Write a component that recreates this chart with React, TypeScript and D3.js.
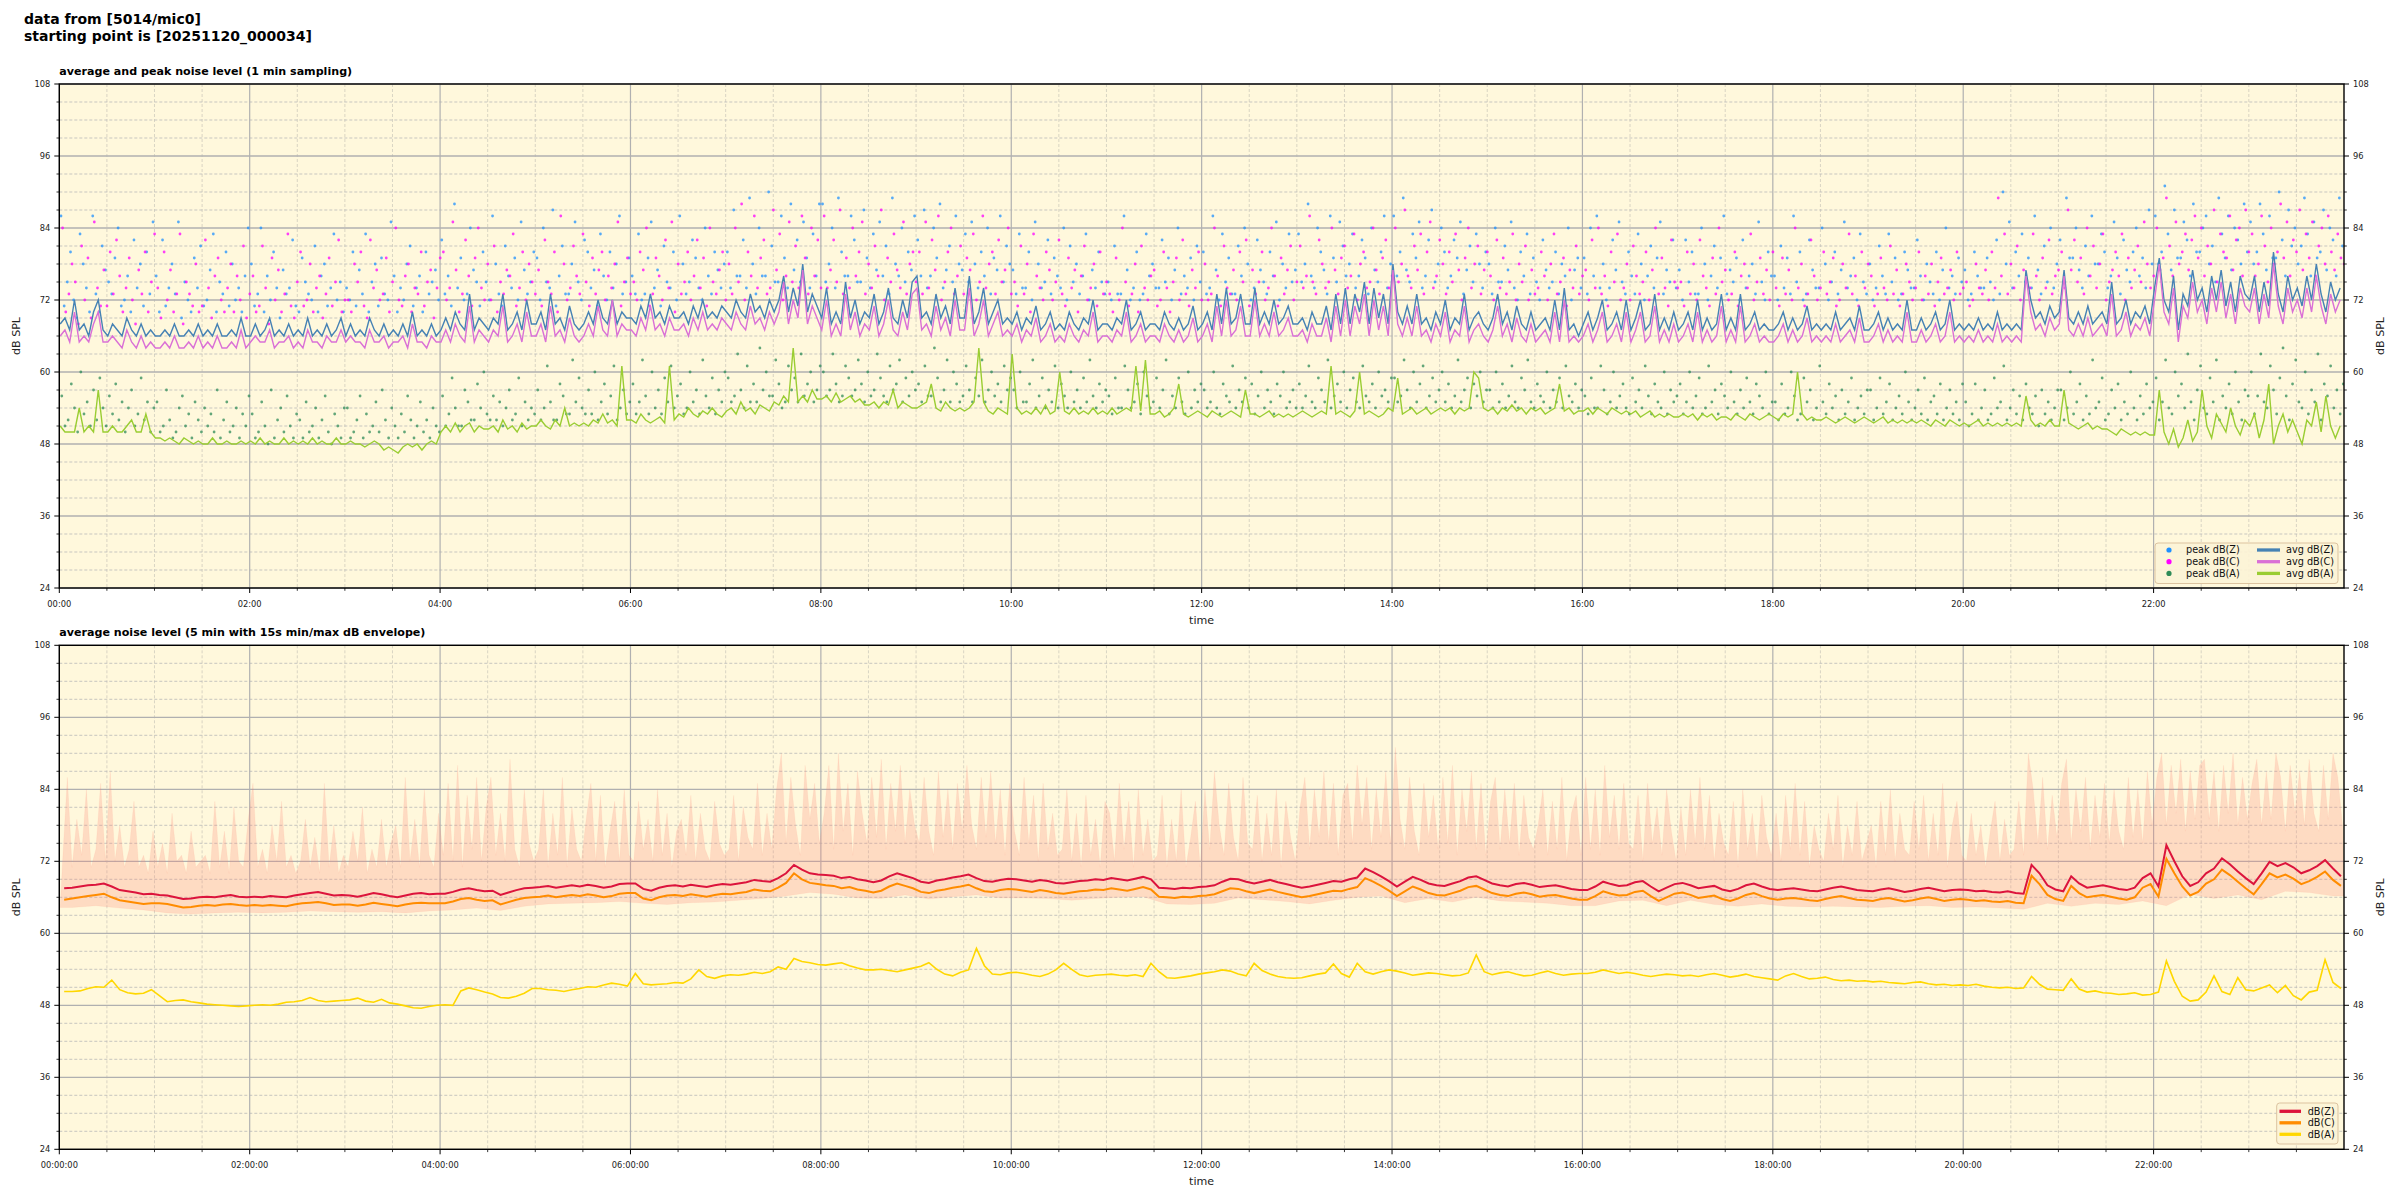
import React from "react";
import * as d3 from "d3";

// ---------------- data ----------------
const START_MIN = 34 / 60; // starting point 00:00:34
const AVG_STEP_MIN = 3;
const PEAK_STEP_MIN = 2;
const BOT_STEP_MIN = 5;
const ENV_MAX_STEP_MIN = 3;
const ENV_MIN_STEP_MIN = 15;

// top panel: average levels (3-min resolution)
const avgZ = [
  68,69,67,72,67,68,66,70,72,67, 66,68,67,66,69,67,66,68,66,67, 66,66,67,66,68,66,66,67,66,68, 66,67,66,68,66,66,67,66,69,66,
  66,68,66,67,69,66,67,66,68,66, 67,66,69,66,67,66,68,66,67,69, 66,68,66,67,66,69,67,66,68,66, 67,66,68,66,70,66,67,66,68,66,
  67,69,67,70,68,67,73,67,69,68, 67,69,68,73,67,68,70,67,72,68, 68,70,67,73,68,69,67,71,68,67, 68,70,68,72,69,68,72,68,70,69,
  69,68,71,69,73,69,70,68,71,69, 69,70,68,71,69,72,69,70,69,71, 70,69,72,70,69,73,70,71,69,72, 70,72,76,70,74,71,78,70,73,71,
  69,74,68,70,68,75,69,72,68,70, 69,73,68,70,74,69,68,72,69,75, 76,69,70,68,73,69,71,68,74,69, 69,76,68,70,74,68,70,72,68,69,
  68,70,67,69,68,71,67,68,70,67, 68,67,70,68,67,69,68,72,67,68, 68,67,69,68,72,67,68,70,67,68, 68,67,70,68,67,69,67,68,71,67,
  68,70,67,73,68,74,68,69,73,68, 68,74,68,70,68,72,68,69,71,68, 68,69,67,70,68,68,71,67,73,68, 74,68,73,70,75,68,74,69,73,68,
  78,70,68,71,68,73,68,69,67,70, 68,72,67,69,68,73,67,69,70,68, 67,69,73,68,70,67,71,68,67,70, 67,68,69,67,72,67,74,67,68,66,
  68,70,67,69,72,67,68,70,67,72, 67,69,72,67,68,73,67,69,67,70, 67,68,70,67,72,67,69,67,68,73, 67,69,67,73,67,68,70,67,68,67,
  67,68,70,67,69,67,68,71,67,68, 67,68,67,70,67,68,69,67,71,67, 67,68,70,67,69,67,68,67,72,67, 67,69,67,68,70,67,68,72,67,68,
  67,68,67,69,67,68,67,70,67,68, 67,68,67,77,72,69,70,68,71,69, 70,77,69,68,70,68,71,68,69,70, 68,75,68,69,72,68,70,69,71,68,
  74,79,72,70,76,67,73,71,77,72, 74,70,76,72,77,71,75,70,76,73, 72,76,70,75,71,80,73,70,76,72, 74,71,76,72,78,73,70,75,72,74,
];
const avgC = [
  66,67,65,70,65,66,65,68,70,65, 65,66,65,64,67,65,64,66,64,65, 64,64,65,64,66,64,64,65,64,66, 64,65,64,66,64,64,65,64,67,64,
  65,66,65,65,67,64,65,65,66,64, 65,64,67,65,65,64,66,65,65,67, 65,66,65,65,64,67,65,65,66,64, 65,65,66,64,68,65,65,64,66,65,
  65,67,65,68,66,65,71,65,67,66, 65,67,66,71,65,66,68,65,70,66, 66,68,65,71,66,67,65,69,66,65, 66,68,66,71,67,66,72,66,68,67,
  67,66,69,67,71,67,68,66,69,67, 67,68,66,69,67,70,67,68,67,69, 68,67,70,68,67,71,68,69,67,70, 68,70,75,68,72,69,77,68,71,69,
  67,72,66,68,66,73,67,70,66,68, 67,71,66,68,72,67,66,70,67,73, 74,67,68,66,71,67,69,66,72,67, 67,74,66,68,72,66,68,70,66,67,
  66,68,65,67,66,69,65,66,68,65, 66,65,68,66,65,67,66,70,65,66, 66,65,67,66,70,65,66,68,65,66, 66,65,68,66,65,67,65,66,69,65,
  66,68,65,71,66,72,66,67,71,66, 66,72,66,68,66,70,66,67,69,66, 66,67,65,68,66,66,69,65,71,66, 72,66,71,68,73,66,72,67,71,66,
  77,68,66,69,66,71,66,67,65,68, 66,70,65,67,66,71,65,67,68,66, 65,67,71,66,68,65,69,66,65,68, 65,66,67,65,70,65,72,65,66,65,
  66,68,65,67,70,65,66,68,65,70, 65,67,70,65,66,71,65,67,65,68, 65,66,68,65,70,65,67,65,66,71, 65,67,65,71,65,66,68,65,66,65,
  65,66,68,65,67,65,66,69,65,66, 65,66,65,68,65,66,67,65,69,65, 65,66,68,65,67,65,66,65,70,65, 65,67,65,66,68,65,66,70,65,66,
  65,66,65,67,65,66,65,68,65,66, 65,66,65,76,70,67,68,66,69,67, 68,76,67,66,68,66,69,66,67,68, 66,73,66,67,70,66,68,67,69,66,
  72,78,70,68,74,65,71,69,75,70, 72,68,74,70,75,69,73,68,74,71, 70,74,68,73,69,78,71,68,74,70, 72,69,74,70,76,71,68,73,70,72,
];
const avgA = [
  51,50,50,50,54,50,51,50,57,50, 50,51,50,50,51,52,50,50,53,50, 49,49,48.5,49,48.5,48,49,48.5,48,48.5, 48,48,49,48,48,48.5,48,48,48.5,48,
  48.5,48,49,48,48.5,48,48,49,48,48.5, 48,48.5,48,49,48,48.5,48,48,49,48, 48,48.5,48,48,47.5,48,48.5,48,47,47.5, 47,46.5,47.5,48,47.5,48,47,48,48.5,48,
  50,51,50,51.5,50,51,51.5,50,51,50.5, 50.5,51,50,52,50.5,51,50,51.5,50.5,51, 51,52,51,50.5,52,51,54,51,51.5,51, 51.5,51,52,51.5,53,51.5,52,51,61,52,
  52,51.5,53,52,51.5,52,52.5,51.5,61,52, 53,52.5,54,53,52.5,53.5,53,54,53,52.5, 53.5,54,53,55,53.5,54,53,54.5,54,53.5, 55,54.5,56,55,64,55,56,55,57,55.5,
  55.5,56,55,56.5,55,55.5,56,55,55.5,54.5, 54.5,55,54,55,54.5,57,54,55,54.5,54, 54,54.5,55,58,54,53.5,55,54,53.5,54, 53.5,54,55,64,55,53.5,53,54,53.5,53,
  63,54,53,53.5,53,54,53,54.5,53,53.5, 60,53.5,53,54,53,53.5,53,54,53,53.5, 53,54,53,53.5,54,53.5,61,53.5,62,53, 53,53.5,52.5,53,54,58,53,52.5,53,53.5,
  53,52.5,53.5,53,52.5,53,53.5,53,52.5,57, 53,53,52.5,53,53.5,52.5,53,52.5,53,52.5, 53,53.5,53,52.5,53,53.5,53,61,53,53.5, 53,52.5,53.5,60,53,53.5,53,52.5,53,54,
  53.5,59,53,53.5,54,53,53.5,54,53,53.5, 54,53.5,54,53,54,53.5,54,60,59,54, 53.5,54,53,54,53.5,54.5,53.5,54,53,54, 53.5,54,53,53.5,54,58,53.5,54,53,53.5,
  53.5,54,53,54,53.5,53,54,53.5,53,53.5, 53,53.5,52.5,53,53.5,52.5,53,52.5,53,52.5, 52.5,53,52.5,53,52,53,52.5,53,52,52.5, 52.5,52,53,52.5,52,53,52.5,52,52.5,53,
  52.5,52,53,52.5,53,60,53,52,52.5,52, 52,52.5,52,51.5,52,52.5,52,51.5,52,52.5, 52,51.5,52,52.5,51.5,52,51.5,52,51.5,52, 51.5,52,51.5,51,52,51.5,51,52,51.5,51,
  51.5,51,51.5,52,51,51.5,51,51.5,51,51.5, 51,51.5,51,56,52,51,51.5,51,52,51, 51,57,51.5,51,50.5,51,51.5,50.5,51,50.5, 50.5,50,49.5,50.5,50,49.5,50,49.5,50,49.5,
  49.5,57,50,48,50.5,47.5,49,52,48.5,50, 57,51,49,53,51.5,50,54,51,49.5,52, 51,53,49,52,58,48,51,53,50,52, 50,48,52,51,55,50,56,51,49,51,
];

// top panel: per-minute peaks (shown every 2 min)
const peakZ = [
  86,71,75,80,72,69,83,78,74,70, 86,73,70,81,77,75,73,79,84,71, 72,76,70,82,74,78,71,80,73,85,
  76,70,82,71,74,78,73,85,69,75, 72,70,79,74,81,71,72,77,83,70, 75,73,80,71,78,72,74,70,76,84,
  78,71,73,84,70,76,72,80,74,69, 77,73,74,82,71,70,79,75,73,72, 81,70,76,78,71,74,83,72,75,70,
  74,72,80,71,77,73,83,70,75,78, 71,79,73,72,85,76,70,74,72,78, 81,71,74,76,70,80,73,75,77,72,
  82,73,76,71,88,74,79,72,73,84, 77,75,71,80,75,72,86,78,73,71, 81,76,74,79,72,85,77,73,75,80,
  79,72,84,75,74,87,71,76,81,73, 73,78,85,75,72,82,80,74,77,71, 83,76,72,80,74,78,86,73,75,79,
  76,73,83,72,73,79,85,74,77,71, 81,75,74,80,72,86,78,73,75,82, 79,74,72,84,76,73,80,77,74,78,
  80,74,87,76,76,82,74,89,78,73, 84,76,76,90,81,75,75,86,79,74, 88,77,82,75,85,79,74,83,76,88,
  88,75,78,84,74,89,80,76,76,86, 82,75,75,87,79,74,83,77,85,76, 81,73,89,78,76,84,75,80,77,86,
  82,76,87,74,76,84,79,88,74,77, 81,75,86,78,77,83,75,85,78,74, 80,76,84,73,79,77,86,75,81,78,
  77,73,83,74,74,80,72,85,78,74, 75,82,73,79,76,74,84,72,81,75, 78,73,76,83,72,77,74,80,75,73,
  75,72,81,73,73,86,77,72,74,80, 72,73,83,76,78,74,74,82,75,79, 72,77,84,73,76,74,79,72,81,75,
  80,73,74,86,77,72,83,75,79,73, 73,81,76,84,78,72,74,82,77,75, 73,80,76,85,72,78,74,83,75,77,
  83,75,78,88,76,74,84,80,77,73, 86,79,75,85,81,76,78,83,74,76, 82,79,73,84,77,75,80,86,74,78,
  86,76,80,89,77,75,83,79,85,74, 76,82,87,75,78,84,80,74,76,82, 79,85,73,77,81,75,83,78,74,80,
  78,73,84,75,75,81,77,85,74,72, 80,76,83,73,79,75,72,82,77,74, 75,80,73,78,76,84,72,77,79,74,
  79,73,84,76,86,74,78,72,74,82, 77,85,75,73,80,76,73,83,78,72, 76,81,74,79,85,73,77,75,82,74,
  77,72,82,75,80,73,73,84,78,72, 76,81,74,79,86,73,77,75,79,72, 82,74,76,78,73,85,75,72,80,76,
  76,72,81,74,79,73,86,75,80,72, 73,82,77,74,74,84,78,72,75,80, 73,77,85,74,76,79,72,83,75,73,
  78,72,74,81,76,73,83,75,79,72, 73,80,77,74,74,82,76,72,78,75, 73,80,72,77,84,74,76,73,79,75,
  77,72,73,80,76,74,74,79,75,72, 82,73,90,78,85,74,80,76,83,75, 79,74,86,77,73,81,75,84,74,78,
  82,75,89,79,79,84,77,74,81,76, 86,78,78,83,80,74,76,85,79,73, 82,77,75,80,84,76,79,74,87,78,
  86,78,80,91,83,77,87,79,79,85, 82,76,88,80,80,84,86,78,81,75, 89,83,79,86,77,84,82,78,88,80,
  85,78,80,88,83,77,86,79,79,90, 82,76,87,81,84,78,81,89,83,76, 85,79,80,87,77,84,82,76,89,81,
];
const peakC = [
  84,70,73,78,75,68,81,72,79,69, 85,74,71,77,71,80,73,82,76,70, 74,79,72,68,77,73,80,70,75,83,
  74,69,80,72,77,70,73,83,68,75, 73,71,78,70,71,82,74,69,76,79, 72,70,74,78,70,76,72,81,69,73,
  76,70,71,81,74,68,79,72,77,70, 73,83,71,69,75,80,71,72,78,70, 74,76,69,73,79,71,75,82,70,72,
  72,70,78,75,80,71,69,82,74,77, 72,73,79,70,75,84,72,71,76,78, 70,74,73,80,71,75,77,69,74,79,
  80,72,74,85,77,70,73,82,76,71, 79,84,74,72,78,72,81,70,75,73, 77,76,83,71,74,80,72,78,75,73,
  77,71,82,75,73,80,70,86,78,72, 74,81,76,73,83,75,71,79,73,77, 80,72,76,74,78,85,71,75,79,73,
  75,72,80,77,84,71,73,79,76,72, 82,74,85,70,78,73,75,80,72,76, 82,74,79,71,84,75,73,77,80,72,
  78,73,84,75,88,72,80,76,86,74, 79,82,73,74,87,77,83,72,76,85, 75,81,74,86,79,73,84,76,82,74,
  86,74,77,82,75,87,73,79,74,84, 76,80,85,73,78,74,81,76,87,72, 79,75,83,77,74,85,73,78,80,75,
  80,73,85,74,82,77,86,72,75,80, 84,73,76,81,73,79,77,83,72,75, 86,74,78,80,73,82,75,77,84,73,
  75,71,81,73,78,70,83,76,74,72, 80,77,72,75,82,73,71,79,74,77, 70,76,81,72,74,78,71,80,73,75,
  73,70,79,72,84,75,71,73,78,70, 81,74,72,76,77,71,72,80,74,70, 75,79,72,82,73,71,77,74,80,72,
  78,72,73,84,76,71,81,74,73,77, 72,80,75,82,71,77,73,75,80,72, 74,84,76,71,79,73,77,81,72,75,
  81,74,76,86,75,73,82,78,74,75, 84,77,73,79,81,74,76,83,72,78, 80,74,75,84,77,73,79,82,74,76,
  84,75,78,87,76,74,81,77,83,73, 80,85,74,76,82,78,73,80,75,83, 77,72,79,84,74,78,81,73,77,80,
  76,72,82,74,79,73,75,83,72,78, 75,81,72,77,73,74,80,76,72,78, 83,73,75,79,71,77,74,81,73,76,
  77,72,82,74,84,73,76,71,80,75, 83,72,74,78,72,81,76,73,75,80, 72,77,84,73,79,74,71,82,75,74,
  75,71,80,73,78,72,82,76,74,71, 79,73,84,75,77,72,73,80,71,76, 78,74,83,72,75,79,73,77,72,80,
  74,71,79,73,77,72,84,74,78,71, 73,82,76,72,74,80,73,75,79,71, 72,78,74,83,73,76,71,80,74,78,
  76,71,73,79,74,72,81,73,77,71, 73,78,75,72,74,80,72,76,73,78, 71,75,79,73,74,77,72,80,73,74,
  75,71,72,78,74,73,77,72,80,74, 89,76,83,73,78,74,81,72,77,75, 74,83,76,72,79,74,82,73,76,77,
  80,74,87,77,82,75,79,73,84,76, 81,74,78,83,72,75,77,80,76,83, 72,79,74,77,81,75,85,78,74,76,
  84,77,79,89,81,76,85,78,80,83, 77,82,86,79,84,76,81,78,87,75, 83,80,79,86,77,82,84,76,87,80,
  83,76,78,86,81,75,84,78,80,88, 79,85,76,82,80,87,77,83,79,85, 76,81,84,78,86,80,77,83,79,78,
];
const peakA = [
  56,51,52,58,54,50,60,53,55,51, 57,52,59,54,51,56,53,58,52,55, 50,54,57,51,53,59,52,55,50,54,
  55,50,51,57,52,49,50,54,56,51, 53,49,55,52,50,54,51,53,50,57, 49,52,55,50,51,54,49,53,51,56,
  53,49,50,55,51,48,57,49,52,54, 50,56,51,49,53,52,49,55,50,51, 54,49,52,56,50,48,53,51,49,54,
  54,49,50,52,56,49,53,50,51,55, 50,57,52,49,54,51,49,53,50,56, 52,49,51,55,50,52,49,54,51,50,
  56,51,53,59,54,51,51,57,55,52, 52,58,54,60,53,52,56,52,55,51, 54,57,52,53,59,51,55,52,54,53,
  57,52,54,61,55,52,52,58,56,53, 53,62,55,59,54,53,57,53,60,52, 55,58,53,56,61,52,54,57,53,55,
  58,53,55,62,56,53,60,54,57,53, 59,55,61,54,56,58,53,54,60,55, 57,53,62,56,54,59,53,57,55,60,
  59,55,56,63,57,54,61,55,58,55, 64,57,60,56,56,62,58,54,55,61, 57,59,55,63,56,58,60,55,57,61,
  60,56,57,63,58,55,56,61,59,56, 57,62,58,55,60,56,57,63,59,56, 55,61,57,58,62,55,59,56,60,57,
  58,55,61,56,56,64,59,55,57,62, 55,60,58,55,56,61,57,55,59,56, 62,55,57,60,56,58,55,61,57,59,
  57,54,60,55,55,58,62,54,56,59, 54,57,55,61,54,58,56,54,60,55, 57,54,59,55,62,56,54,58,55,57,
  56,53,59,54,54,61,57,54,55,58, 53,60,56,54,55,59,54,57,62,53, 56,54,59,55,53,60,54,57,55,58,
  57,54,55,60,54,53,58,56,55,61, 54,57,55,59,54,58,53,56,60,54, 57,55,53,58,56,60,54,55,57,54,
  58,54,56,61,55,54,59,57,55,62, 54,56,58,55,60,54,57,59,55,54, 61,56,55,58,54,60,56,57,55,59,
  59,55,56,62,57,54,60,55,58,61, 54,56,59,55,57,60,55,58,54,56, 62,55,57,59,54,58,56,60,55,57,
  57,54,60,55,58,54,56,61,55,54, 59,57,62,55,54,58,56,55,60,54, 57,55,59,54,61,56,55,58,54,57,
  56,53,59,54,54,61,57,53,55,60, 54,56,58,54,53,59,55,57,54,61, 56,53,58,55,54,60,53,57,55,56,
  58,53,55,60,54,56,59,53,54,61, 55,57,53,58,56,54,60,55,53,57, 54,59,55,53,58,56,54,60,53,55,
  55,52,58,53,54,60,56,52,53,59, 55,57,52,54,61,55,53,58,54,56, 52,57,53,55,59,52,54,56,53,57,
  57,52,54,59,53,55,58,52,54,56, 53,60,55,52,54,57,53,59,52,55, 56,53,58,52,54,57,53,55,52,58,
  55,51,53,58,52,54,57,52,53,59, 54,55,61,52,54,57,53,56,52,58, 54,53,56,51,57,53,55,52,54,57,
  57,52,54,60,53,55,58,52,56,53, 62,54,55,59,52,53,57,54,58,52, 55,53,60,54,52,56,53,58,54,55,
  59,52,55,62,54,53,60,56,58,54, 63,55,52,57,61,54,53,59,55,62, 52,56,54,58,53,60,55,52,57,56,
  60,53,56,63,55,54,61,57,53,59, 64,56,52,58,62,55,54,60,53,57, 55,63,52,58,56,61,54,57,53,58,
];

// bottom panel: 5-min averages
const botZ = [
  67.5,67.6,67.8,68.0,68.1,68.3,67.8,67.2,67.0,66.8,66.5,66.6, 66.4,66.3,66.0,65.7,65.8,66.0,66.1,66.0,66.2,66.4,66.1,66.0,
  66.1,66.0,66.2,66.1,66.0,66.3,66.5,66.7,66.9,66.6,66.3,66.4, 66.3,66.1,66.4,66.7,66.5,66.2,66.0,66.3,66.6,66.7,66.5,66.6,
  66.6,66.9,67.3,67.5,67.2,67.0,67.1,66.4,66.8,67.2,67.5,67.6, 67.7,67.9,67.6,67.8,68.0,67.8,68.1,67.9,67.6,67.8,68.2,68.3,
  68.3,67.4,67.1,67.6,67.9,68.0,67.8,68.1,67.9,67.7,68.0,68.2, 68.1,68.3,68.5,68.9,68.7,68.6,69.2,70.0,71.4,70.6,70.0,69.8,
  69.7,69.6,69.2,69.4,69.0,68.8,68.5,68.8,69.5,70.0,69.6,69.2, 68.6,68.4,68.8,69.0,69.3,69.5,69.8,69.2,68.7,68.6,68.9,69.1,
  69.0,68.8,68.6,68.9,68.7,68.4,68.3,68.5,68.7,68.8,69.0,68.9, 69.2,69.0,68.8,69.1,69.4,69.0,67.6,67.5,67.4,67.6,67.5,67.7,
  67.8,68.0,68.6,69.1,69.0,68.6,68.3,68.6,68.9,68.5,68.2,67.9, 67.6,67.8,68.1,68.4,68.7,68.6,69.0,69.3,70.8,70.2,69.5,68.7,
  67.8,68.6,69.4,68.9,68.3,68.0,67.9,68.3,68.7,69.3,69.5,68.9, 68.3,68.0,67.8,68.2,68.4,68.1,67.7,67.9,68.0,67.7,67.4,67.2,
  67.2,67.8,68.6,68.2,67.9,68.0,68.5,68.7,67.8,67.0,67.6,68.2, 68.4,68.0,67.5,67.7,67.9,67.3,67.0,67.4,68.0,68.3,67.8,67.4,
  67.2,67.4,67.5,67.3,67.1,67.0,67.3,67.6,67.8,67.5,67.2,67.1, 67.0,67.3,67.5,67.2,66.9,67.1,67.4,67.6,67.3,67.0,67.2,67.3,
  67.2,67.0,67.1,66.9,66.8,67.0,66.7,66.6,71.4,70.0,68.0,67.3, 67.0,69.5,68.3,67.6,67.8,68.0,67.7,67.4,67.2,67.6,69.2,70.0,
  67.8,74.7,72.0,69.5,67.9,68.5,70.0,70.8,72.5,71.5,70.3,69.2, 68.2,70.0,71.9,71.2,71.7,71.0,70.0,70.5,71.2,72.2,70.8,69.5,
];
const botC = [
  65.6,65.8,66.0,66.2,66.4,66.6,66.0,65.5,65.3,65.1,64.9,65.0, 65.0,64.9,64.6,64.3,64.4,64.6,64.7,64.6,64.8,64.9,64.7,64.6,
  64.7,64.6,64.7,64.6,64.5,64.8,65.0,65.1,65.2,65.0,64.7,64.8, 64.8,64.6,64.8,65.1,64.9,64.7,64.5,64.8,65.0,65.1,65.0,65.0,
  65.0,65.3,65.7,65.9,65.6,65.4,65.5,64.8,65.2,65.6,65.9,66.0, 66.1,66.3,66.0,66.2,66.4,66.2,66.5,66.3,66.0,66.2,66.6,66.7,
  66.7,65.8,65.5,66.0,66.3,66.4,66.2,66.5,66.3,66.1,66.4,66.6, 66.5,66.7,66.9,67.3,67.1,67.0,67.6,68.4,70.0,69.0,68.4,68.2,
  68.0,67.9,67.5,67.7,67.3,67.1,66.8,67.1,67.8,68.3,67.9,67.5, 66.9,66.7,67.1,67.3,67.6,67.8,68.1,67.5,67.0,66.9,67.2,67.4,
  67.3,67.1,66.9,67.2,67.0,66.7,66.6,66.8,67.0,67.1,67.3,67.2, 67.5,67.3,67.1,67.4,67.7,67.3,66.1,66.0,65.9,66.1,66.0,66.2,
  66.3,66.5,67.0,67.5,67.4,67.0,66.7,67.0,67.3,66.9,66.6,66.3, 66.0,66.2,66.5,66.8,67.1,67.0,67.4,67.7,69.2,68.6,67.9,67.1,
  66.2,67.0,67.8,67.3,66.7,66.4,66.3,66.7,67.1,67.7,67.9,67.3, 66.7,66.4,66.2,66.6,66.8,66.5,66.1,66.3,66.4,66.1,65.8,65.6,
  65.6,66.2,67.0,66.6,66.3,66.4,66.9,67.1,66.2,65.4,66.0,66.6, 66.8,66.4,65.9,66.1,66.3,65.7,65.4,65.8,66.4,66.7,66.2,65.8,
  65.6,65.8,65.9,65.7,65.5,65.4,65.7,66.0,66.2,65.9,65.6,65.5, 65.4,65.7,65.9,65.6,65.3,65.5,65.8,66.0,65.7,65.4,65.6,65.7,
  65.6,65.4,65.5,65.3,65.2,65.4,65.1,65.0,69.6,68.2,66.4,65.7, 65.4,67.9,66.7,66.0,66.2,66.4,66.1,65.8,65.6,66.0,67.6,68.2,
  66.1,72.4,70.0,67.8,66.3,66.9,68.3,69.0,70.6,69.7,68.6,67.5, 66.5,68.2,70.0,69.3,69.8,69.1,68.2,68.7,69.4,70.3,68.9,67.9,
];
const botA = [
  50.3,50.3,50.4,50.8,51.1,51.0,52.2,50.6,50.1,49.9,50.0,50.6, 49.6,48.6,48.8,48.9,48.6,48.4,48.2,48.1,48.0,47.9,47.8,47.9,
  48.0,48.1,48.0,48.2,48.5,48.6,48.8,49.3,48.8,48.6,48.7,48.8, 48.9,49.2,48.7,48.5,49.0,48.4,48.2,47.9,47.6,47.5,47.8,48.0,
  48.1,48.0,50.4,50.9,50.6,50.2,49.9,49.3,49.2,49.5,50.0,50.8, 50.8,50.6,50.5,50.3,50.6,50.8,51.1,51.0,51.4,51.7,51.5,51.2,
  53.3,51.6,51.4,51.5,51.6,51.8,51.7,52.4,53.9,52.8,52.5,52.9, 53.1,53.0,53.2,53.5,53.3,53.6,54.4,54.0,55.8,55.3,55.1,54.8,
  54.7,54.9,55.1,54.6,54.2,53.9,53.9,54.0,53.8,53.6,53.9,54.2, 54.5,55.1,54.0,53.2,52.9,53.5,53.9,57.5,54.6,53.2,53.1,53.4,
  53.5,53.3,53.0,52.8,53.2,53.9,55.0,54.0,53.1,52.8,53.0,53.1, 53.2,53.0,52.9,53.1,52.8,55.0,53.6,52.6,52.5,52.7,52.9,53.2,
  53.4,53.6,53.9,53.7,53.2,52.9,55.0,53.8,53.2,52.8,52.6,52.5, 52.6,52.9,53.2,53.4,54.9,53.3,52.7,55.0,53.6,53.2,53.6,53.9,
  53.7,53.4,53.0,53.2,53.4,53.3,53.1,52.9,53.0,53.4,56.4,53.6, 53.1,53.4,53.6,53.2,52.9,53.0,53.4,53.7,53.3,53.0,53.2,53.3,
  53.3,53.5,53.9,53.6,53.3,53.5,53.3,53.0,52.8,53.0,53.2,53.1, 52.9,53.0,52.8,53.1,53.3,53.0,52.7,52.9,53.2,52.8,52.6,52.4,
  52.2,52.9,53.3,52.8,52.4,52.5,52.7,52.3,52.1,52.2,52.0,52.1, 51.9,52.0,51.8,51.7,51.6,51.8,51.9,51.6,51.4,51.5,51.3,51.4,
  51.3,51.5,51.2,51.0,50.9,51.0,50.8,50.9,52.8,51.5,50.7,50.6, 50.5,52.4,50.7,50.2,50.4,50.1,50.0,49.8,49.9,50.1,49.7,49.8,
  50.2,55.4,52.0,49.5,48.7,48.9,50.2,52.9,50.3,49.8,52.6,50.6, 50.4,50.9,51.4,50.1,51.3,49.6,48.9,50.2,50.5,55.6,51.8,50.8,
];

// bottom panel: 15 s min/max envelope
const envMax = [
  72,86,71,79,73,84,71,74,85,72, 87,72,78,71,74,82,71,73,70,77, 71,75,70,80,72,73,70,77,71,72, 73,70,82,71,77,70,81,72,71,79,
  85,71,74,70,78,72,82,71,73,70, 72,79,71,76,70,85,71,78,70,73, 71,77,72,81,70,74,71,79,71,75, 78,71,86,72,79,71,84,73,71,80,
  73,85,72,88,71,83,74,86,72,81, 86,73,80,72,89,74,71,84,75,72, 74,84,71,80,73,86,71,81,74,72, 79,85,72,83,71,77,82,72,84,73,
  72,82,74,79,72,84,73,80,71,77, 79,73,83,72,80,74,72,82,75,73, 74,83,72,81,76,74,85,73,80,74, 84,90,75,86,78,73,88,79,85,75,
  80,88,74,90,77,85,73,87,80,75, 86,76,89,74,85,77,88,75,84,78, 75,86,77,73,87,76,84,74,85,77, 88,78,74,86,76,87,75,84,73,85,
  77,73,86,75,83,72,85,74,80,73, 74,84,72,80,71,83,73,79,71,82, 80,72,85,74,82,71,84,73,79,72, 73,83,71,79,72,84,71,76,82,71,
  84,74,87,78,73,85,76,72,86,75, 74,83,72,80,73,84,71,82,76,72, 81,86,74,84,76,87,75,85,73,83, 85,75,88,78,86,74,84,76,87,75,
  91,79,74,86,77,73,85,76,83,74, 86,75,88,73,84,77,87,74,85,73, 82,86,74,84,75,85,73,83,76,74, 78,84,73,82,74,86,72,80,83,73,
  86,74,84,73,88,76,83,74,85,75, 74,83,72,85,75,81,73,84,77,72, 81,73,84,75,86,74,83,72,80,75, 73,82,71,84,74,80,72,83,76,73,
  80,72,83,74,85,73,82,71,78,74, 72,80,74,83,71,78,73,82,72,75, 78,71,82,73,84,72,80,74,73,82, 74,83,72,80,73,85,71,78,82,73,
  72,80,73,78,71,77,82,72,79,73, 74,82,73,90,84,75,86,74,83,76, 85,89,75,84,77,86,74,83,76,85, 75,84,77,74,86,76,84,75,87,78,
  86,90,78,88,80,89,77,87,79,88, 89,79,87,77,88,80,90,78,86,79, 85,89,78,87,79,90,86,77,88,80, 87,78,89,80,77,88,79,90,86,78,
];
const envMin = [
  64.3,64.6,64.2,63.9, 63.4,63.2,63.4,63.5, 63.4,63.5,63.7,63.6, 63.5,63.6,63.4,63.7,
  63.9,64.2,63.8,64.5, 64.9,65.0,65.1,65.3, 65.0,64.8,65.1,65.2, 65.5,65.8,66.2,66.8,
  66.5,65.9,65.8,66.4, 65.7,66.1,66.4,65.9, 65.9,65.8,65.5,65.8, 66.0,66.1,64.9,64.8,
  65.0,65.9,65.6,65.3, 64.9,65.5,66.0,66.2, 65.1,65.8,65.2,66.0, 65.4,65.2,65.0,64.6,
  64.6,65.4,65.5,64.6, 65.5,64.8,64.5,64.9, 64.5,64.4,64.5,64.4, 64.3,64.5,64.6,64.3,
  64.4,64.2,64.0,65.0, 64.5,65.0,64.8,65.4, 64.6,66.5,65.8,66.4, 65.6,67.0,66.8,66.2,
];

const yMajorTicks = [24, 36, 48, 60, 72, 84, 96, 108];
const xMajorHours = [0, 2, 4, 6, 8, 10, 12, 14, 16, 18, 20, 22];

const SUPTITLE = ["data from [5014/mic0]", "starting point is [20251120_000034]"];
const TITLE_TOP = "average and peak noise level (1 min sampling)";
const TITLE_BOT = "average noise level (5 min with 15s min/max dB envelope)";
const legendTop = [
  { label: "peak dB(Z)", color: "#1e90ff", kind: "dot" },
  { label: "peak dB(C)", color: "#ff00ff", kind: "dot" },
  { label: "peak dB(A)", color: "#2e8b57", kind: "dot" },
  { label: "avg dB(Z)", color: "#4682b4", kind: "line" },
  { label: "avg dB(C)", color: "#da70d6", kind: "line" },
  { label: "avg dB(A)", color: "#9acd32", kind: "line" },
];
const legendBot = [
  { label: "dB(Z)", color: "#dc143c" },
  { label: "dB(C)", color: "#ff8c00" },
  { label: "dB(A)", color: "#ffd700" },
];

// ---------------- layout ----------------
const W = 2400;
const H = 1200;
const XL = 59.3;
const XR = 2344;
const FONT = "DejaVu Sans, Verdana, sans-serif";
const BG = "#fff8dc";

const x = d3.scaleLinear().domain([0, 1440]).range([XL, XR]);
const pad2 = (n: number) => String(n).padStart(2, "0");

type PanelProps = {
  top: number;
  bottom: number;
  title: string;
  fmt: (h: number) => string;
  id: string;
  children: (y: d3.ScaleLinear<number, number>) => React.ReactNode;
};

function Panel({ top, bottom, title, fmt, id, children }: PanelProps) {
  const y = d3.scaleLinear().domain([24, 108]).range([bottom, top]);
  const yMinor = d3.range(24, 108.1, 3).filter((v) => v % 12 !== 0);
  const xMinor = d3.range(0, 1440, 30).filter((m) => m % 120 !== 0);
  return (
    <g>
      <rect x={XL} y={top} width={XR - XL} height={bottom - top} fill={BG} />
      {xMinor.map((m) => (
        <line key={"xm" + m} x1={x(m)} x2={x(m)} y1={top} y2={bottom} stroke="#cfcbbd" strokeWidth={0.8} strokeDasharray="3,2" />
      ))}
      {yMinor.map((v) => (
        <line key={"ym" + v} x1={XL} x2={XR} y1={y(v)} y2={y(v)} stroke="#b9b9b9" strokeWidth={0.8} strokeDasharray="3,2" />
      ))}
      {xMajorHours.map((h) => (
        <line key={"xg" + h} x1={x(h * 60)} x2={x(h * 60)} y1={top} y2={bottom} stroke="#b0b0b0" strokeWidth={1.2} />
      ))}
      {yMajorTicks.map((v) => (
        <line key={"yg" + v} x1={XL} x2={XR} y1={y(v)} y2={y(v)} stroke="#b0b0b0" strokeWidth={1.3} />
      ))}
      <defs>
        <clipPath id={id}>
          <rect x={XL} y={top} width={XR - XL} height={bottom - top} />
        </clipPath>
      </defs>
      <g clipPath={`url(#${id})`}>{children(y)}</g>
      <rect x={XL} y={top} width={XR - XL} height={bottom - top} fill="none" stroke="#000" strokeWidth={1.4} />
      {yMajorTicks.map((v) => (
        <g key={"yt" + v}>
          <line x1={XL - 5} x2={XL} y1={y(v)} y2={y(v)} stroke="#000" strokeWidth={1} />
          <line x1={XR} x2={XR + 5} y1={y(v)} y2={y(v)} stroke="#000" strokeWidth={1} />
          <text x={XL - 9} y={y(v)} dy="0.35em" textAnchor="end" fontSize={8.3} fontFamily={FONT} fill="#222">{v}</text>
          <text x={XR + 9} y={y(v)} dy="0.35em" textAnchor="start" fontSize={8.3} fontFamily={FONT} fill="#222">{v}</text>
        </g>
      ))}
      {yMinor.map((v) => (
        <g key={"ymt" + v}>
          <line x1={XL - 2.8} x2={XL} y1={y(v)} y2={y(v)} stroke="#000" strokeWidth={0.8} />
          <line x1={XR} x2={XR + 2.8} y1={y(v)} y2={y(v)} stroke="#000" strokeWidth={0.8} />
        </g>
      ))}
      {xMajorHours.map((h) => (
        <g key={"xt" + h}>
          <line x1={x(h * 60)} x2={x(h * 60)} y1={bottom} y2={bottom + 5} stroke="#000" strokeWidth={1} />
          <text x={x(h * 60)} y={bottom + 18.5} textAnchor="middle" fontSize={8.3} fontFamily={FONT} fill="#222">{fmt(h)}</text>
        </g>
      ))}
      {xMinor.map((m) => (
        <line key={"xmt" + m} x1={x(m)} x2={x(m)} y1={bottom} y2={bottom + 2.8} stroke="#000" strokeWidth={0.8} />
      ))}
      <text x={XL} y={top - 9} fontSize={11.1} fontWeight="bold" fontFamily={FONT} fill="#000">{title}</text>
      <text x={(XL + XR) / 2} y={bottom + 36} textAnchor="middle" fontSize={11.1} fontFamily={FONT} fill="#222">time</text>
      <text transform={`translate(20,${(top + bottom) / 2}) rotate(-90)`} textAnchor="middle" fontSize={11.1} fontFamily={FONT} fill="#222">dB SPL</text>
      <text transform={`translate(2384,${(top + bottom) / 2}) rotate(-90)`} textAnchor="middle" fontSize={11.1} fontFamily={FONT} fill="#222">dB SPL</text>
    </g>
  );
}

export default function App() {
  const topTop = 84;
  const topBottom = 588;
  const botTop = 645.3;
  const botBottom = 1149.3;

  const lineFor = (y: d3.ScaleLinear<number, number>, step: number, offset: number) =>
    d3
      .line<number>()
      .x((_, i) => x(START_MIN + offset + i * step))
      .y((d) => y(d));

  const envelopePath = (y: d3.ScaleLinear<number, number>) => {
    const upper = envMax.map((v, i) => [x(START_MIN + i * ENV_MAX_STEP_MIN + 1.5), y(v)]);
    const lower = envMin.map((v, i) => [x(START_MIN + i * ENV_MIN_STEP_MIN + 7.5), y(v)]);
    const first = [x(START_MIN), y(envMin[0])];
    const last = [x(1440), y(envMin[envMin.length - 1])];
    const pts = [first, ...upper, last, ...lower.reverse()];
    return "M" + pts.map((p) => p[0].toFixed(2) + "," + p[1].toFixed(2)).join("L") + "Z";
  };

  const dots = (arr: number[], y: d3.ScaleLinear<number, number>, color: string, off: number, key: string) =>
    arr.map((v, i) => (
      <circle key={key + i} cx={x(START_MIN + off + i * PEAK_STEP_MIN)} cy={y(v)} r={1.4} fill={color} fillOpacity={0.75} />
    ));

  return (
    <svg
      width={W}
      height={H}
      viewBox={`0 0 ${W} ${H}`}
      style={{ position: "absolute", left: 0, top: 0, background: "#fff" }}
    >
      <rect x={0} y={0} width={W} height={H} fill="#fff" />
      <text x={24} y={24} fontSize={14} fontWeight="bold" fontFamily={FONT} fill="#000">{SUPTITLE[0]}</text>
      <text x={24} y={40.5} fontSize={14} fontWeight="bold" fontFamily={FONT} fill="#000">{SUPTITLE[1]}</text>

      <Panel top={topTop} bottom={topBottom} title={TITLE_TOP} fmt={(h) => `${pad2(h)}:00`} id="clipTop">
        {(y) => (
          <g>
            {dots(peakZ, y, "#1e90ff", 0.5, "pz")}
            {dots(peakC, y, "#ff00ff", 1.5, "pc")}
            {dots(peakA, y, "#2e8b57", 1.0, "pa")}
            <path d={lineFor(y, AVG_STEP_MIN, 0)(avgZ) || ""} fill="none" stroke="#4682b4" strokeWidth={1.4} />
            <path d={lineFor(y, AVG_STEP_MIN, 0)(avgC) || ""} fill="none" stroke="#da70d6" strokeWidth={1.4} />
            <path d={lineFor(y, AVG_STEP_MIN, 0)(avgA) || ""} fill="none" stroke="#9acd32" strokeWidth={1.4} />
          </g>
        )}
      </Panel>

      <Panel top={botTop} bottom={botBottom} title={TITLE_BOT} fmt={(h) => `${pad2(h)}:00:00`} id="clipBot">
        {(y) => (
          <g>
            <path d={envelopePath(y)} fill="#fa8072" fillOpacity={0.24} stroke="#fa8072" strokeOpacity={0.12} strokeWidth={0.6} />
            <path d={lineFor(y, BOT_STEP_MIN, 2.5)(botZ) || ""} fill="none" stroke="#dc143c" strokeWidth={2} />
            <path d={lineFor(y, BOT_STEP_MIN, 2.5)(botC) || ""} fill="none" stroke="#ff8c00" strokeWidth={2} />
            <path d={lineFor(y, BOT_STEP_MIN, 2.5)(botA) || ""} fill="none" stroke="#ffd700" strokeWidth={1.6} />
          </g>
        )}
      </Panel>

      <g>
        <rect x={2155} y={543} width={183} height={40.5} rx={3} fill="#fcf3d6" fillOpacity={0.9} stroke="#dcc3a0" strokeWidth={1} />
        {legendTop.map((d, i) => {
          const col = d.kind === "dot" ? 0 : 1;
          const row = i % 3;
          const yy = 550 + row * 11.7;
          return (
            <g key={"lt" + i}>
              {col === 0 ? (
                <circle cx={2169} cy={yy} r={2.6} fill={d.color} />
              ) : (
                <line x1={2257} x2={2280} y1={yy} y2={yy} stroke={d.color} strokeWidth={3.3} />
              )}
              <text x={col === 0 ? 2186 : 2286} y={yy} dy="0.35em" fontSize={9.7} fontFamily={FONT} fill="#111">{d.label}</text>
            </g>
          );
        })}
      </g>

      <g>
        <rect x={2276.7} y={1103} width={61.3} height={41} rx={3} fill="#fcf3d6" fillOpacity={0.9} stroke="#dcc3a0" strokeWidth={1} />
        {legendBot.map((d, i) => {
          const yy = 1111.3 + i * 11.5;
          return (
            <g key={"lb" + i}>
              <line x1={2279.5} x2={2301} y1={yy} y2={yy} stroke={d.color} strokeWidth={3.3} />
              <text x={2307.7} y={yy} dy="0.35em" fontSize={9.7} fontFamily={FONT} fill="#111">{d.label}</text>
            </g>
          );
        })}
      </g>
    </svg>
  );
}
